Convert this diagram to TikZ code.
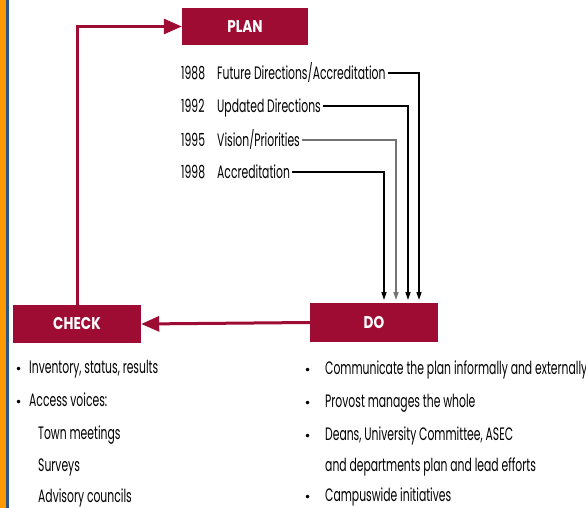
\documentclass[tikz,border=0pt]{standalone}
\usepackage{fontspec}
\setmainfont[FakeStretch=0.6]{Poppins}
\newfontfamily\labelfont[FakeStretch=0.8]{Poppins}
\newfontfamily\dotfont{DejaVu Sans}
\usetikzlibrary{arrows.meta}
\definecolor{crimson}{RGB}{158,12,52}
\definecolor{barorange}{RGB}{255,153,0}
\definecolor{barblue}{RGB}{44,84,130}
\newcommand{\itemdot}{{\dotfont\fontsize{12}{12}\selectfont •}}
\begin{document}
\begin{tikzpicture}[x=1pt,y=-1pt,
  phase/.style={fill=crimson, draw=none, text=white, inner sep=0pt,
    font=\labelfont\bfseries\fontsize{17}{17}\selectfont},
  item/.style={anchor=west, inner sep=0pt, text height=12.5pt, text depth=0pt,
    font=\fontsize{18}{18}\selectfont},
  cycle/.style={draw=crimson, line width=3pt, -{Triangle[length=18pt,width=15pt]}},
  feed/.style={draw=black, line width=1.5pt, -{Triangle[length=8pt,width=5pt]}},
]
% page and side bars
\useasboundingbox (0,0) rectangle (586,508);
\fill[white] (0,0) rectangle (586,508);
\fill[barorange] (0,0) rectangle (6,508);
\fill[barblue] (6,0) rectangle (8.5,508);

% the three phases
\node[phase, minimum width=126pt, minimum height=37pt] (plan) at (245,26.5) {PLAN};
\node[phase, minimum width=128pt, minimum height=38pt] (check) at (77,324) {CHECK};
\node[phase, minimum width=128pt, minimum height=39pt] (do) at (374,322.5) {DO};

% planning documents
\node[item] (p88) at (181,73) {\makebox[36pt][l]{1988}Future Directions/Accreditation};
\node[item] (p92) at (181,106) {\makebox[36pt][l]{1992}Updated Directions};
\node[item] (p95) at (181,140) {\makebox[36pt][l]{1995}Vision/Priorities};
\node[item] (p98) at (181,172) {\makebox[36pt][l]{1998}Accreditation};

\coordinate (in88) at (419,300);
\coordinate (in92) at (408,300);
\coordinate (in95) at (396,300);
\coordinate (in98) at (384,300);

\draw[feed] ([xshift=2pt]p88.east) -| (in88);
\draw[feed] ([xshift=2pt]p92.east) -| (in92);
\draw[feed, draw=black!55] ([xshift=2pt]p95.east) -| (in95);
\draw[feed] ([xshift=2pt]p98.east) -| (in98);

% cycle connectors
\draw[cycle] (do.west) -- (check.east);
\draw[cycle] (check.north) |- (plan.west);

% check list
\node[item] (c1) at (15,367) {\makebox[14pt][l]{\itemdot}Inventory, status, results};
\node[item] (c2) at (15,400) {\makebox[14pt][l]{\itemdot}Access voices:};
\node[item] (c3) at (38,433) {Town meetings};
\node[item] (c4) at (38,465) {Surveys};
\node[item] (c5) at (38,496) {Advisory councils};

% do list
\node[item] (d1) at (304,368) {\makebox[21pt][l]{\itemdot}Communicate the plan informally and externally};
\node[item] (d2) at (304,401) {\makebox[21pt][l]{\itemdot}Provost manages the whole};
\node[item] (d3) at (304,434) {\makebox[21pt][l]{\itemdot}Deans, University Committee, ASEC};
\node[item] (d4) at (325,465) {and departments plan and lead efforts};
\node[item] (d5) at (304,495) {\makebox[21pt][l]{\itemdot}Campuswide initiatives};
\end{tikzpicture}
\end{document}
